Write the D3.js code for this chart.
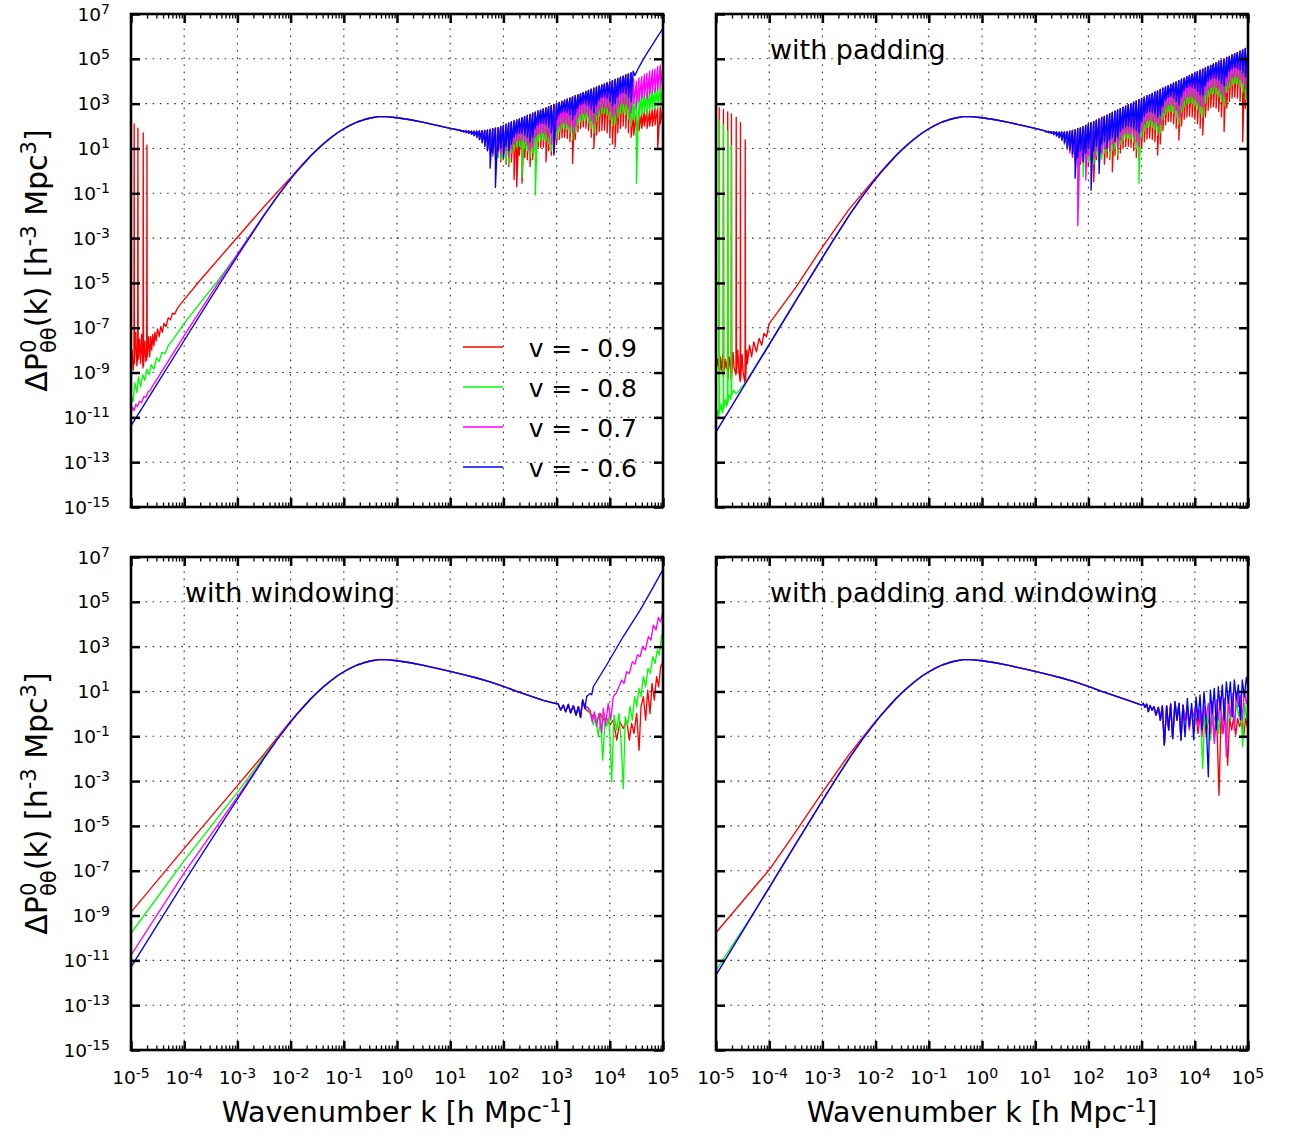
<!DOCTYPE html>
<html><head><meta charset="utf-8">
<script src="https://cdn.jsdelivr.net/npm/d3@7"></script>
<style>body{margin:0;background:#fff}svg{display:block}</style>
</head><body>
<svg id="c" width="1294" height="1138"></svg>
<script>
// ---------------- DATA (log10 k, log10 P) ----------------
const X_TICKS = [-5,-4,-3,-2,-1,0,1,2,3,4,5];
const Y_TICKS = [7,5,3,1,-1,-3,-5,-7,-9,-11,-13,-15];
const SERIES_NAMES = ["v = - 0.9","v = - 0.8","v = - 0.7","v = - 0.6"];
const SERIES_COLORS = ["#ff0000","#00ff00","#ff00ff","#0000ff"];

// shared smooth curve
const BASE = [[-5,-11.65],[-4.5,-9.7],[-4,-7.75],[-3.5,-5.8],[-3,-3.87],[-2.75,-2.92],[-2.5,-2.0],[-2.25,-1.14],[-2,-0.36],[-1.875,0.0],[-1.75,0.33],[-1.625,0.66],[-1.5,0.95],[-1.375,1.22],[-1.25,1.47],[-1.125,1.69],[-1,1.88],[-0.875,2.04],[-0.75,2.18],[-0.625,2.28],[-0.5,2.36],[-0.35,2.42],[-0.2,2.42],[0,2.37],[0.25,2.28],[0.5,2.16],[0.75,2.03],[1,1.9],[1.25,1.75],[1.5,1.6],[1.75,1.43],[2,1.23],[2.25,1.0],[2.5,0.8],[2.75,0.6],[3,0.39]];

// k grid of the ringing band (top panels)
const K_TOP = [1.2,1.25,1.3,1.35,1.4,1.45,1.5,1.55,1.6,1.65,1.7,1.75,1.8,1.85,1.9,1.95,2,2.05,2.1,2.15,2.2,2.25,2.3,2.35,2.4,2.45,2.5,2.55,2.6,2.65,2.7,2.75,2.8,2.85,2.9,2.95,3,3.05,3.1,3.15,3.2,3.25,3.3,3.35,3.4,3.45,3.5,3.55,3.6,3.65,3.7,3.75,3.8,3.85,3.9,3.95,4,4.05,4.1,4.15,4.2,4.25,4.3,4.35,4.4,4.45,4.5,4.55,4.6,4.65,4.7,4.75,4.8,4.85,4.9,4.95,5];

// ---- top-left (no padding, no windowing) ----
const TL_RED_LOW = [[-5.0,-8.8],[-4.98,-8.0],[-4.96,-8.9],[-4.945,-8.5],[-4.94,2.09],[-4.935,-8.6],[-4.91,-7.2],[-4.89,-8.7],[-4.875,-8.3],[-4.87,1.91],[-4.865,-8.4],[-4.84,-7.5],[-4.82,-8.6],[-4.8,-7.3],[-4.775,-8.8],[-4.77,1.69],[-4.765,-8.7],[-4.74,-7.6],[-4.72,-8.5],[-4.705,-8.4],[-4.70,1.15],[-4.695,-8.3],[-4.67,-7.4],[-4.65,-8.3],[-4.63,-7.4],[-4.61,-8.0],[-4.59,-7.3],[-4.57,-7.8],[-4.55,-7.2],[-4.53,-7.6],[-4.5,-7.05],[-4.47,-7.4],[-4.44,-6.95],[-4.41,-7.2],[-4.38,-6.8],[-4.34,-6.95],[-4.3,-6.55],[-4.26,-6.65],[-4.22,-6.35],[-4.18,-6.4],[-4.12,-6.1],[-4.02,-5.8],[-3.7,-4.88],[-3.0,-2.96],[-2.5,-1.6],[-2.0,-0.3],[-1.75,0.36]];
const TL_GREEN_LOW = [[-5.0,-10.0],[-4.96,-10.3],[-4.93,-9.45],[-4.89,-9.9],[-4.86,-9.2],[-4.82,-9.65],[-4.78,-9.1],[-4.74,-9.35],[-4.70,-8.85],[-4.66,-9.1],[-4.62,-8.65],[-4.57,-8.85],[-4.52,-8.35],[-4.47,-8.5],[-4.42,-8.1],[-4.36,-8.15],[-4.3,-7.8],[-4.2,-7.5],[-4.02,-6.86],[-3.36,-4.88],[-3.0,-3.72],[-2.5,-1.96],[-2.0,-0.36]];
const TL_MAG_LOW = [[-5.0,-10.8],[-4.97,-10.55],[-4.94,-10.7],[-4.91,-10.42],[-4.88,-10.52],[-4.84,-10.28],[-4.80,-10.34],[-4.76,-10.08],[-4.72,-10.1],[-4.68,-9.86],[-4.64,-9.8],[-4.6,-9.62],[-4.5,-9.25],[-4.0,-7.35],[-3.5,-5.5],[-3.0,-3.72],[-2.5,-1.98]];
const TL_BLUE_LOW = [[-5,-11.38],[-4.5,-9.47],[-4,-7.57],[-3.5,-5.67],[-3,-3.8],[-2.5,-1.99]];
const TL_HI = [1.80,1.79,1.78,1.78,1.77,1.77,1.77,1.78,1.79,1.80,1.82,1.85,1.88,1.91,1.93,1.98,2.03,2.08,2.13,2.18,2.23,2.27,2.32,2.37,2.42,2.47,2.52,2.57,2.62,2.67,2.71,2.76,2.81,2.86,2.91,2.96,3.01,3.05,3.10,3.15,3.20,3.25,3.30,3.35,3.40,3.44,3.49,3.54,3.59,3.64,3.69,3.74,3.79,3.84,3.88,3.93,3.98,4.03,4.08,4.13,4.18,4.23,4.28,4.33,4.37];
const TL_BLUE_LO = [1.76,1.74,1.71,1.68,1.63,1.57,1.5,1.4,1.25,1.1,0.9,0.12,0.8,-0.74,0.9,1.0,0.6,1.1,0.9,1.2,1.5,1.65,1.7,1.68,1.6,1.5,1.3,1.5,1.9,2.05,2.12,2.13,2.08,1.95,1.7,0.71,2.3,2.5,2.62,2.64,2.6,2.5,2.3,2.5,2.8,2.95,3.0,2.98,2.9,2.75,2.6,2.9,3.15,3.28,3.3,3.25,3.1,2.9,3.0,3.3,3.45,3.5,3.45,3.3,3.1];
const TL_MAG_LO = [1.76,1.74,1.71,1.68,1.63,1.57,1.5,1.4,1.3,1.15,0.9,0.7,0.75,0.6,0.8,0.7,0.8,0.9,0.6,1.0,1.2,1.35,1.38,1.35,1.3,1.15,0.9,1.1,1.5,1.62,1.68,1.7,1.65,1.5,1.2,1.4,1.8,2.0,2.1,2.13,2.08,1.95,1.7,2.0,2.35,2.52,2.58,2.55,2.45,2.25,2.1,2.5,2.72,2.84,2.86,2.8,2.65,2.4,2.5,2.8,2.95,3.0,2.95,2.8,2.6];
const TL_GREEN_LO = [1.76,1.74,1.71,1.68,1.63,1.57,1.5,1.4,1.3,1.1,0.9,0.8,0.7,0.7,0.6,0.5,0.6,0.4,0.3,0.8,0.9,1.05,1.1,-0.27,1.0,0.9,0.6,0.8,-1.08,1.3,1.37,1.38,1.32,1.2,0.9,1.1,1.5,1.75,1.88,1.9,1.85,1.7,1.4,1.7,2.05,2.2,2.27,2.25,2.15,1.9,1.7,2.2,2.42,2.55,2.58,2.5,2.3,2.0,2.1,2.4,2.55,2.6,2.5,2.3,2.0];
const TL_RED_LO = [1.77,1.75,1.72,1.69,1.64,1.58,1.5,1.4,1.3,1.1,0.95,0.8,0.65,0.5,0.6,0.4,0.5,0.3,0.2,0.4,-0.4,-0.71,0.7,-0.55,0.6,0.5,0.2,0.5,0.9,1.0,1.05,1.06,0.4,0.9,0.7,0.8,1.2,1.4,1.48,1.5,1.45,1.3,0.33,1.4,1.75,1.9,1.96,1.9,1.8,1.5,1.0,1.6,1.75,1.8,1.82,1.7,1.5,1.2,1.07,1.7,1.9,2.0,1.9,1.7,1.5];
const TL_BLUE_TAIL = [[4.44,4.45],[4.47,4.25],[4.52,4.5],[4.6,4.85],[4.7,5.25],[4.8,5.62],[4.9,6.0],[5.0,6.36]];
const TL_MAG_TAIL = [[4.45,4.1,3.0],[4.5,4.0,2.8],[4.55,4.15,3.1],[4.6,4.2,3.2],[4.65,4.3,3.3],[4.7,4.35,3.2],[4.75,4.45,3.4],[4.8,4.5,3.5],[4.85,4.55,3.5],[4.9,4.65,3.6],[4.95,4.72,3.7],[5.0,4.75,3.8]];
const TL_GREEN_TAIL = [[4.45,3.4,2.3],[4.5,3.3,-0.56],[4.55,3.4,2.4],[4.6,3.45,2.5],[4.65,3.5,2.6],[4.7,3.55,2.5],[4.75,3.6,2.7],[4.8,3.65,2.75],[4.85,3.7,2.8],[4.9,3.75,2.8],[4.95,3.8,2.9],[5.0,3.85,3.0]];
const TL_RED_TAIL = [[4.45,2.6,1.6],[4.5,2.55,1.5],[4.55,2.6,1.8],[4.6,2.6,1.9],[4.65,2.65,2.0],[4.7,2.7,1.9],[4.75,2.7,2.0],[4.8,2.75,2.0],[4.85,2.8,2.05],[4.9,2.8,1.0],[4.95,2.85,2.1],[5.0,2.9,2.2]];

// ---- top-right (with padding) ----
const TR_RED_LOW = [[-5.0,-8.9],[-4.97,-8.4],[-4.945,-8.9],[-4.94,2.83],[-4.935,-9.0],[-4.92,-8.3],[-4.9,-8.9],[-4.875,-8.2],[-4.865,-9.2],[-4.86,2.74],[-4.855,-9.1],[-4.83,-8.4],[-4.81,-8.8],[-4.79,-8.5],[-4.785,-9.2],[-4.78,2.63],[-4.775,-9.3],[-4.75,-8.3],[-4.73,-8.7],[-4.715,-9.3],[-4.71,2.54],[-4.705,-9.2],[-4.68,-8.1],[-4.66,-8.8],[-4.625,-9.1],[-4.62,2.39],[-4.615,-9.0],[-4.59,-8.0],[-4.57,-8.9],[-4.545,-9.4],[-4.54,2.15],[-4.535,-9.3],[-4.51,-8.2],[-4.49,-9.0],[-4.455,-9.5],[-4.45,1.38],[-4.445,-9.4],[-4.42,-8.0],[-4.41,-8.6],[-4.37,-7.78],[-4.33,-8.3],[-4.29,-7.63],[-4.24,-8.08],[-4.19,-7.48],[-4.14,-7.78],[-4.10,-7.26],[-4.05,-7.4],[-4.0,-6.82],[-3.5,-5.2],[-3.0,-3.4],[-2.5,-1.72],[-2.0,-0.3],[-1.75,0.36]];
const TR_GREEN_LOW = [[-5.0,-11.1],[-4.97,-10.7],[-4.95,-11.0],[-4.945,-10.9],[-4.94,2.27],[-4.935,-10.8],[-4.9,-10.4],[-4.88,-10.8],[-4.865,-10.7],[-4.86,2.04],[-4.855,-10.6],[-4.82,-10.2],[-4.8,-10.5],[-4.785,-10.4],[-4.78,1.78],[-4.775,-10.3],[-4.75,-10.0],[-4.72,-10.2],[-4.715,-10.1],[-4.71,1.12],[-4.705,-10.0],[-4.67,-9.8],[-4.62,-9.95],[-4.55,-9.75],[-4.45,-9.45],[-4.0,-7.72],[-3.5,-5.78],[-3.0,-3.86],[-2.5,-2.0]];
const TR_HI = [1.77,1.76,1.75,1.74,1.74,1.73,1.73,1.74,1.75,1.77,1.80,1.84,1.88,1.92,1.97,2.03,2.09,2.15,2.20,2.26,2.32,2.38,2.43,2.49,2.55,2.61,2.66,2.72,2.78,2.83,2.89,2.95,3.00,3.06,3.12,3.18,3.23,3.29,3.35,3.40,3.46,3.52,3.57,3.63,3.69,3.75,3.80,3.86,3.92,3.97,4.03,4.09,4.14,4.20,4.26,4.32,4.37,4.43,4.49,4.54,4.60,4.66,4.71,4.77,4.83,4.89,4.94,5.00,5.06,5.11,5.17,5.23,5.28,5.34,5.40,5.46,5.51];
const TR_BLUE_LO = [1.74,1.71,1.67,1.62,1.56,1.48,1.38,1.25,1.05,0.95,0.75,-0.33,0.6,0.9,0.4,0.8,1.0,-0.86,0.9,1.1,-0.12,1.2,1.3,1.0,1.4,1.5,1.3,1.5,1.75,1.9,1.97,2.0,1.97,1.9,1.8,1.7,2.2,2.45,2.6,2.65,2.62,2.55,2.4,2.5,2.9,3.15,3.3,3.32,3.25,3.1,2.95,3.3,3.6,3.72,3.76,3.74,3.68,3.55,3.4,3.35,3.8,4.0,4.1,4.15,4.12,4.05,3.9,3.8,4.2,4.45,4.55,4.6,4.58,4.5,4.35,4.2,4.4];
const TR_MAG_LO = [1.74,1.71,1.67,1.62,1.56,1.48,1.38,1.25,1.0,0.8,0.6,0.5,-2.45,0.4,0.5,-0.41,0.7,0.8,0.6,0.9,1.0,0.8,1.0,1.1,0.9,1.2,1.3,1.0,1.4,1.6,1.67,1.68,1.65,1.55,1.3,1.1,1.8,2.1,2.24,2.28,2.24,2.15,2.0,2.1,2.6,2.82,2.94,2.95,2.88,2.7,2.4,2.9,3.15,3.28,3.32,3.3,3.2,3.05,2.9,2.85,3.4,3.6,3.72,3.76,3.72,3.62,3.45,3.3,3.8,4.0,4.15,4.2,4.18,4.08,3.9,3.7,4.0];
const TR_GREEN_LO = [1.74,1.71,1.67,1.62,1.56,1.48,1.36,1.2,0.95,0.9,0.7,0.4,0.3,0.6,-0.26,0.5,0.4,0.6,0.3,0.7,0.6,0.5,0.8,0.9,0.6,0.9,1.0,0.7,1.2,1.35,1.45,1.47,1.42,1.3,1.0,-0.56,1.5,1.8,1.94,1.98,1.94,1.85,1.6,1.7,2.3,2.52,2.64,2.65,2.58,2.4,2.1,2.6,2.85,2.98,3.02,3.0,2.9,2.75,2.55,2.4,3.0,3.3,3.42,3.46,3.42,3.3,3.1,2.9,3.5,3.7,3.85,3.9,3.88,3.75,3.5,3.2,3.7];
const TR_RED_LO = [1.74,1.71,1.67,1.62,1.56,1.48,1.36,1.2,0.95,0.85,0.7,0.5,0.2,0.3,0.4,0.6,0.2,0.5,-0.49,0.5,0.4,0.7,0.3,0.6,0.5,-0.04,0.7,0.5,0.8,1.0,1.08,1.1,1.05,0.9,0.6,0.5,1.0,1.3,1.42,1.46,1.4,1.3,0.71,1.2,1.8,2.05,2.2,2.2,2.1,1.9,1.38,2.0,2.3,2.4,2.44,2.4,2.3,2.1,1.9,1.6,2.4,2.7,2.82,2.86,2.8,2.65,2.4,1.75,2.8,3.1,3.25,3.3,3.25,3.1,1.3,2.8,3.2];

// ---- bottom-left (with windowing) ----
const BL_RED_LOW = [[-5,-8.85],[-4,-6.0],[-3,-3.2],[-2.5,-1.8],[-2,-0.32],[-1.75,0.35]];
const BL_GREEN_LOW = [[-5,-9.79],[-4,-6.55],[-3,-3.5],[-2.5,-1.9],[-2,-0.35]];
const BL_MAG_LOW = [[-5,-10.77],[-4,-7.1],[-3,-3.7],[-2.5,-1.97]];
const BL_BLUE_LOW = [[-5,-11.3],[-4,-7.5],[-3,-3.8],[-2.5,-1.99]];
const BL_SHARED = [[2.75,0.6],[2.876,0.52],[3.03,0.44],[3.076,0.17],[3.127,0.39],[3.17,0.09],[3.22,0.42],[3.264,0.05],[3.315,0.36],[3.365,-0.05],[3.41,0.32],[3.45,-0.16],[3.49,0.62]];
const BL_BLUE_TAIL = [[3.534,0.24],[3.565,0.77],[3.628,0.91],[3.66,0.85],[3.69,1.21],[3.94,2.18],[4.25,3.44],[4.57,4.63],[4.82,5.67],[4.975,6.35],[5.0,6.42]];
const BL_MAG_TAIL = [[3.534,0.24],[3.565,0.32],[3.63,0.17],[3.67,-0.35],[3.71,0.09],[3.75,-0.57],[3.797,0.02],[3.847,-0.87],[3.878,0.25],[3.92,-0.5],[3.97,0.47],[4.016,-0.28],[4.066,0.77],[4.117,0.91],[4.16,1.14],[4.223,1.51],[4.267,1.36],[4.317,1.88],[4.367,1.81],[4.424,2.33],[4.474,2.22],[4.518,2.63],[4.568,2.55],[4.618,3.0],[4.668,2.85],[4.724,3.44],[4.774,3.29],[4.818,3.96],[4.868,3.74],[4.912,4.3],[4.956,4.1],[5.0,4.6]];
const BL_GREEN_TAIL = [[3.534,0.24],[3.59,0.3],[3.63,0.02],[3.69,-0.5],[3.734,-0.05],[3.784,-1.02],[3.828,-0.13],[3.866,-2.06],[3.91,-0.35],[3.94,-0.57],[3.985,-0.13],[4.035,-3.03],[4.079,-0.05],[4.13,-0.72],[4.173,0.02],[4.21,-1.17],[4.254,-3.33],[4.29,-0.13],[4.336,-0.5],[4.38,0.32],[4.424,-0.28],[4.468,0.77],[4.505,0.32],[4.55,1.14],[4.587,0.77],[4.63,1.66],[4.674,1.21],[4.718,2.03],[4.762,1.81],[4.806,2.55],[4.85,2.25],[4.893,2.85],[4.93,2.63],[4.975,3.52],[5.0,3.4]];
const BL_RED_TAIL = [[3.534,0.24],[3.6,0.1],[3.69,-0.13],[3.75,-0.35],[3.816,0.02],[3.878,-0.28],[3.94,-0.2],[4.0,-0.5],[4.066,-0.28],[4.13,-1.17],[4.19,-0.35],[4.254,-0.65],[4.317,-0.28],[4.367,-1.17],[4.41,-0.43],[4.455,-0.87],[4.505,0.02],[4.55,-1.62],[4.587,0.32],[4.63,0.77],[4.674,-0.28],[4.712,1.06],[4.756,0.02],[4.793,1.36],[4.837,0.62],[4.88,1.66],[4.918,1.21],[4.956,2.1],[5.0,2.33]];

// ---- bottom-right (with padding and windowing) ----
const BR_RED_LOW = [[-5,-9.8],[-4.97,-9.68],[-3.98,-6.9],[-3.61,-5.63],[-3,-3.5],[-2.5,-1.82],[-2,-0.33],[-1.75,0.35]];
const BR_GREEN_LOW = [[-5,-11.44],[-4.7,-10.35],[-4.36,-9.13],[-4.0,-7.75]];
const BR_SHARED = [[3.03,0.47],[3.064,0.29],[3.095,0.44],[3.127,0.1],[3.158,0.38],[3.195,0.17],[3.233,0.32],[3.27,-0.05],[3.315,0.29],[3.352,-0.28],[3.39,0.35],[3.427,-1.39],[3.471,0.35],[3.509,-0.72],[3.546,0.44],[3.584,-1.1],[3.628,0.54],[3.665,-0.28],[3.703,0.47],[3.74,-1.17],[3.778,0.39]];
const BR_BLUE_TAIL = [[3.816,-1.02],[3.86,0.69],[3.897,-0.57],[3.941,0.47],[3.979,-1.17],[4.023,0.76],[4.06,-0.28],[4.098,0.84],[4.135,-0.72],[4.173,0.99],[4.21,-0.13],[4.254,-2.81],[4.292,1.06],[4.33,0.02],[4.367,1.14],[4.405,-0.72],[4.442,1.21],[4.48,0.17],[4.517,1.29],[4.555,-0.28],[4.593,1.43],[4.63,0.47],[4.668,1.43],[4.705,-0.13],[4.743,1.51],[4.781,0.62],[4.818,1.29],[4.856,-0.28],[4.893,1.51],[4.931,0.76],[4.969,1.63],[5.0,1.21]];
const BR_MAG_TAIL = [[3.816,-0.28],[3.86,0.32],[3.897,-0.72],[3.941,0.24],[3.979,-0.13],[4.023,0.47],[4.06,-0.57],[4.098,0.17],[4.135,-1.02],[4.173,0.32],[4.21,-0.28],[4.254,0.47],[4.292,-0.87],[4.33,0.54],[4.367,-1.32],[4.405,0.62],[4.442,-0.28],[4.48,0.76],[4.517,-0.87],[4.555,0.69],[4.593,-1.91],[4.63,0.84],[4.668,-0.13],[4.705,0.91],[4.743,-0.72],[4.781,0.99],[4.818,0.32],[4.856,0.84],[4.893,-0.28],[4.931,1.06],[4.969,0.47],[5.0,0.69]];
const BR_GREEN_TAIL = [[3.816,-0.13],[3.86,0.17],[3.897,-0.43],[3.941,0.10],[3.979,-0.72],[4.023,0.02],[4.06,-0.28],[4.104,0.17],[4.148,-2.43],[4.185,-0.05],[4.223,-0.57],[4.261,0.10],[4.298,-1.17],[4.336,0.02],[4.373,-0.28],[4.411,0.17],[4.449,-0.87],[4.486,0.24],[4.524,-0.43],[4.561,0.32],[4.599,-0.72],[4.637,0.39],[4.674,-0.28],[4.712,0.47],[4.749,-0.57],[4.787,0.54],[4.825,-0.13],[4.862,0.39],[4.9,-1.47],[4.937,0.47],[4.975,-0.28],[5.0,0.32]];
const BR_RED_TAIL = [[3.816,-0.28],[3.86,0.10],[3.897,-0.57],[3.941,0.02],[3.979,-0.43],[4.023,-0.05],[4.06,-0.87],[4.104,0.02],[4.142,-0.57],[4.179,-0.13],[4.217,-1.02],[4.254,-0.05],[4.292,-0.72],[4.33,-0.13],[4.367,-1.17],[4.411,-0.05],[4.455,-3.63],[4.492,-0.13],[4.53,-0.87],[4.568,-0.05],[4.618,-2.29],[4.655,-0.20],[4.693,-0.72],[4.731,-0.13],[4.768,-0.95],[4.806,-0.20],[4.843,-0.57],[4.881,-0.28],[4.918,-1.02],[4.956,-0.20],[5.0,-0.72]];

// ---------------- assembly helpers ----------------
function baseSeg(a,b){ return BASE.filter(d=>d[0]>a && d[0]<b); }
function zig(ks,hi,lo){ const o=[]; const n=Math.min(hi.length,lo.length); for(let i=0;i<n;i++){ o.push([ks[i],hi[i]],[ks[i],lo[i]]); } return o; }
function trip(a){ const o=[]; a.forEach(t=>{o.push([t[0],t[1]],[t[0],t[2]]);}); return o; }

const PANEL_SERIES = {
  TL: [
    [...TL_RED_LOW, ...baseSeg(-1.75,1.2), ...zig(K_TOP,TL_HI,TL_RED_LO), ...trip(TL_RED_TAIL)],
    [...TL_GREEN_LOW, ...baseSeg(-2.0,1.2), ...zig(K_TOP,TL_HI,TL_GREEN_LO), ...trip(TL_GREEN_TAIL)],
    [...TL_MAG_LOW, ...baseSeg(-2.5,1.2), ...zig(K_TOP,TL_HI,TL_MAG_LO), ...trip(TL_MAG_TAIL)],
    [...TL_BLUE_LOW, ...baseSeg(-2.5,1.2), ...zig(K_TOP,TL_HI,TL_BLUE_LO), ...TL_BLUE_TAIL]
  ],
  TR: [
    [...TR_RED_LOW, ...baseSeg(-1.75,1.2), ...zig(K_TOP,TR_HI,TR_RED_LO)],
    [...TR_GREEN_LOW, ...baseSeg(-2.5,1.2), ...zig(K_TOP,TR_HI,TR_GREEN_LO)],
    [...baseSeg(-6,1.2), ...zig(K_TOP,TR_HI,TR_MAG_LO)],
    [...baseSeg(-6,1.2), ...zig(K_TOP,TR_HI,TR_BLUE_LO)]
  ],
  BL: [
    [...BL_RED_LOW, ...baseSeg(-1.75,2.7), ...BL_SHARED, ...BL_RED_TAIL],
    [...BL_GREEN_LOW, ...baseSeg(-2.0,2.7), ...BL_SHARED, ...BL_GREEN_TAIL],
    [...BL_MAG_LOW, ...baseSeg(-2.5,2.7), ...BL_SHARED, ...BL_MAG_TAIL],
    [...BL_BLUE_LOW, ...baseSeg(-2.5,2.7), ...BL_SHARED, ...BL_BLUE_TAIL]
  ],
  BR: [
    [...BR_RED_LOW, ...baseSeg(-1.75,3.01), ...BR_SHARED, ...BR_RED_TAIL],
    [...BR_GREEN_LOW, ...baseSeg(-4.0,3.01), ...BR_SHARED, ...BR_GREEN_TAIL],
    [...baseSeg(-6,3.01), ...BR_SHARED, ...BR_MAG_TAIL],
    [...baseSeg(-6,3.01), ...BR_SHARED, ...BR_BLUE_TAIL]
  ]
};

// ---------------- drawing ----------------
const FONT = "'DejaVu Sans', 'Liberation Sans', Arial, sans-serif";
const svg = d3.select("#c");
const W = 532, H = 493;
const PANELS = [
  {id:"TL", left:131, top:14,  label:null, xlab:false, ylab:true, legend:true},
  {id:"TR", left:716, top:14,  label:"with padding", xlab:false, ylab:false},
  {id:"BL", left:131, top:557, label:"with windowing", xlab:true, ylab:true},
  {id:"BR", left:716, top:557, label:"with padding and windowing", xlab:true, ylab:false}
];

const x = d3.scaleLog().domain([1e-5,1e5]).range([0,W]);
const y = d3.scaleLog().domain([1e-15,1e7]).range([H,0]);
const line = d3.line().x(d=>x(Math.pow(10,d[0]))).y(d=>y(Math.pow(10,d[1])));

const minor = [];
for (let d=-5; d<5; d++) for (let m=2; m<10; m++) minor.push(Math.pow(10,d)*m);
const xMajor = X_TICKS.map(v=>Math.pow(10,v));
const yMajor = Y_TICKS.map(v=>Math.pow(10,v));

PANELS.forEach(p=>{
  const g = svg.append("g").attr("transform",`translate(${p.left},${p.top})`);
  const cid = "clip"+p.id;
  g.append("clipPath").attr("id",cid).append("rect").attr("width",W).attr("height",H);

  // grid
  const grid = g.append("g").attr("stroke","#333").attr("stroke-width",1.1).attr("stroke-dasharray","1.6,5.6").attr("fill","none");
  xMajor.slice(1,-1).forEach(v=>grid.append("line").attr("x1",x(v)).attr("x2",x(v)).attr("y1",0).attr("y2",H));
  yMajor.slice(1,-1).forEach(v=>grid.append("line").attr("y1",y(v)).attr("y2",y(v)).attr("x1",0).attr("x2",W));

  // data
  const dg = g.append("g").attr("clip-path",`url(#${cid})`);
  PANEL_SERIES[p.id].forEach((s,i)=>{
    dg.append("path").attr("d",line(s)).attr("fill","none")
      .attr("stroke",SERIES_COLORS[i]).attr("stroke-width",1.35).attr("stroke-linejoin","round");
  });

  // ticks via axes
  const styleAxis = (sel,w)=>{ sel.select(".domain").remove(); sel.selectAll("line").attr("stroke","#000").attr("stroke-width",w); sel.selectAll("text").remove(); };
  g.append("g").attr("transform",`translate(0,${H})`).call(d3.axisBottom(x).tickValues(xMajor).tickSize(-9).tickFormat("")).call(s=>styleAxis(s,2.5));
  g.append("g").attr("transform",`translate(0,${H})`).call(d3.axisBottom(x).tickValues(minor).tickSize(-4.5).tickFormat("")).call(s=>styleAxis(s,1.3));
  g.append("g").call(d3.axisTop(x).tickValues(xMajor).tickSize(-9).tickFormat("")).call(s=>styleAxis(s,2.5));
  g.append("g").call(d3.axisTop(x).tickValues(minor).tickSize(-4.5).tickFormat("")).call(s=>styleAxis(s,1.3));
  g.append("g").call(d3.axisLeft(y).tickValues(yMajor).tickSize(-9).tickFormat("")).call(s=>styleAxis(s,2.5));
  g.append("g").attr("transform",`translate(${W},0)`).call(d3.axisRight(y).tickValues(yMajor).tickSize(-9).tickFormat("")).call(s=>styleAxis(s,2.5));

  // frame
  g.append("rect").attr("width",W).attr("height",H).attr("fill","none").attr("stroke","#000").attr("stroke-width",2.6);

  // y tick labels
  if (p.ylab){
    Y_TICKS.forEach(v=>{
      const t = g.append("text").attr("x",-21).attr("y",y(Math.pow(10,v))+6.5)
        .attr("text-anchor","end").attr("font-family",FONT).attr("font-size",18.5).attr("fill","#000");
      t.append("tspan").text("10");
      t.append("tspan").attr("dy",-6.5).attr("font-size",14).text(String(v));
    });
    const yl = svg.append("text").attr("transform",`translate(47,${p.top+H/2}) rotate(-90)`)
      .attr("text-anchor","middle").attr("font-family",FONT).attr("font-size",30).attr("fill","#000");
    yl.append("tspan").text("ΔP");
    yl.append("tspan").attr("dy",-11).attr("font-size",21).text("0");
    yl.append("tspan").attr("dx",-13.3).attr("dy",20).attr("font-size",21).text("θθ");
    yl.append("tspan").attr("dy",-9).text("(k) [h");
    yl.append("tspan").attr("dy",-11).attr("font-size",21).text("-3");
    yl.append("tspan").attr("dy",11).text(" Mpc");
    yl.append("tspan").attr("dy",-11).attr("font-size",21).text("3");
    yl.append("tspan").attr("dy",11).text("]");
  }
  // x tick labels + title
  if (p.xlab){
    X_TICKS.forEach(v=>{
      const t = g.append("text").attr("x",x(Math.pow(10,v))).attr("y",H+34)
        .attr("text-anchor","middle").attr("font-family",FONT).attr("font-size",18.5).attr("fill","#000");
      t.append("tspan").text("10");
      t.append("tspan").attr("dy",-6.5).attr("font-size",14).text(String(v));
    });
    const xt = g.append("text").attr("x",W/2).attr("y",H+72).attr("text-anchor","middle")
      .attr("font-family",FONT).attr("font-size",28.5).attr("fill","#000");
    xt.append("tspan").text("Wavenumber k [h Mpc");
    xt.append("tspan").attr("dy",-10).attr("font-size",19).text("-1");
    xt.append("tspan").attr("dy",10).text("]");
  }
  // panel label
  if (p.label){
    g.append("text").attr("x",54).attr("y",44.5).attr("font-family",FONT).attr("font-size",27).attr("fill","#000").text(p.label);
  }
  // legend
  if (p.legend){
    SERIES_NAMES.forEach((n,i)=>{
      const ly = 333 + i*40;
      g.append("line").attr("x1",332).attr("x2",372).attr("y1",ly).attr("y2",ly).attr("stroke",SERIES_COLORS[i]).attr("stroke-width",1.4);
      g.append("text").attr("x",506).attr("y",ly+9.5).attr("text-anchor","end").attr("font-family",FONT)
        .attr("font-size",25).attr("fill","#000").text(n);
    });
  }
});
</script>
</body></html>
